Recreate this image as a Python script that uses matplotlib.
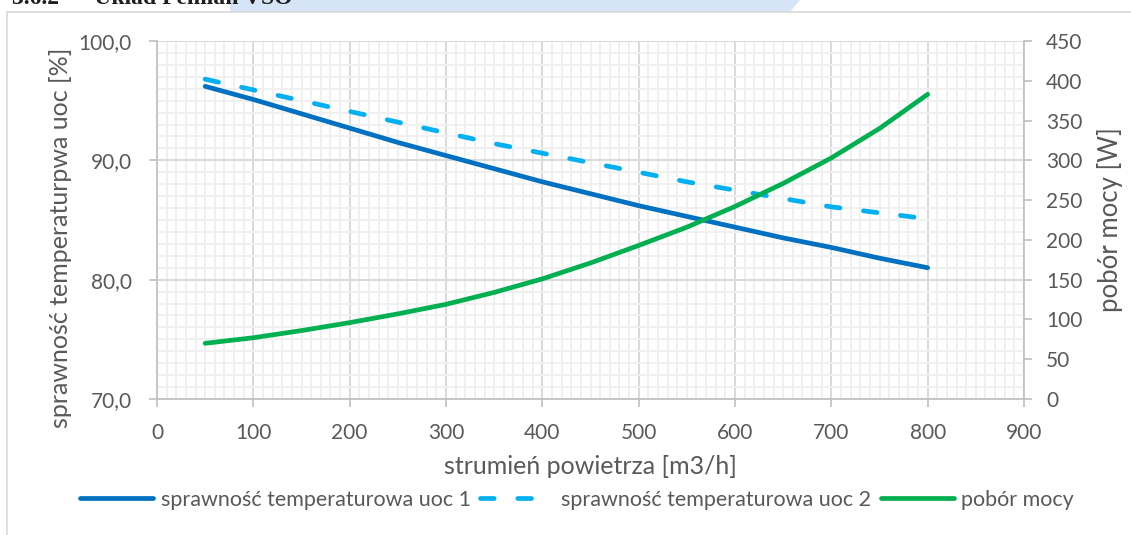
import numpy as np
import matplotlib
matplotlib.use("Agg")
import matplotlib.pyplot as plt
from matplotlib.ticker import MultipleLocator, FuncFormatter
from matplotlib.patches import Rectangle, Polygon

plt.rcParams['font.family'] = ['Lato', 'DejaVu Sans']

# values
airflow = [50, 100, 150, 200, 250, 300, 350, 400, 450, 500, 550, 600, 650, 700, 750, 800]
uoc1 = [96.2, 95.1, 93.9, 92.7, 91.5, 90.4, 89.3, 88.2, 87.2, 86.2, 85.3, 84.4, 83.5, 82.7, 81.8, 81.0]
uoc2 = [96.8, 95.9, 95.0, 94.1, 93.2, 92.3, 91.4, 90.6, 89.8, 89.0, 88.2, 87.5, 86.8, 86.1, 85.6, 85.1]
power = [70, 77, 86, 96, 107, 119, 134, 151, 171, 193, 216, 242, 271, 303, 340, 383]

label_uoc1 = 'sprawność temperaturowa uoc 1'
label_uoc2 = 'sprawność temperaturowa uoc 2'
label_power = 'pobór mocy'

txt = '#595959'
major_grid = '#D9D9D9'
minor_grid = '#F0F0F0'
axis_col = '#BFBFBF'

W, H = 1131, 535
fig = plt.figure(figsize=(W / 100, H / 100), dpi=100)

# document bits above the chart (header band, clipped heading)
band = Polygon([(230 / W, 1), (800 / W, 1), (790 / W, 1 - 12 / H), (230 / W, 1 - 12 / H)],
               closed=True, transform=fig.transFigure, facecolor='#D5E5F7',
               edgecolor='none', zorder=-2)
fig.patches.append(band)
fig.text(12 / W, 1 + 2 / H, '3.6.2      Układ Pemlan VSO', family='Liberation Serif',
         fontweight='bold', fontsize=17, color='#1F1F1F', va='center', ha='left')

# chart area border
fig.patches.append(Rectangle((7 / W, -0.02), 1.1, 1 - 12 / H + 0.02, transform=fig.transFigure,
                             facecolor='white', edgecolor='#D9D9D9', linewidth=1.2, zorder=-1))

ax = fig.add_axes([157 / W, 1 - 399 / H, (1024 - 157) / W, (399 - 41) / H])
ax.patch.set_alpha(0)
ax2 = ax.twinx()

ax.set_xlim(0, 900)
ax.set_ylim(70, 100)
ax2.set_ylim(0, 450)

ax.xaxis.set_major_locator(MultipleLocator(100))
ax.xaxis.set_minor_locator(MultipleLocator(10))
ax.yaxis.set_major_locator(MultipleLocator(10))
ax.yaxis.set_minor_locator(MultipleLocator(1))
ax2.yaxis.set_major_locator(MultipleLocator(50))
ax.yaxis.set_major_formatter(FuncFormatter(lambda v, p: f'{v:.1f}'.replace('.', ',')))

ax.grid(which='minor', color=minor_grid, linewidth=1.4)
ax.grid(which='major', color=major_grid, linewidth=1.4)
ax.set_axisbelow(True)

ax.plot(airflow, uoc1, color='#0070C0', linewidth=3.4, solid_capstyle='round', label=label_uoc1, zorder=3)
ax.plot(airflow, uoc2, color='#00B0F0', linewidth=3.4, linestyle=(0, (2.9, 5.0)),
        dash_capstyle='round', label=label_uoc2, zorder=3)
ax2.plot(airflow, power, color='#00B050', linewidth=3.4, solid_capstyle='round', label=label_power, zorder=3)

for a in (ax, ax2):
    for s in a.spines.values():
        s.set_visible(False)
    a.tick_params(which='minor', length=0)
    a.tick_params(which='major', colors=axis_col, labelcolor=txt, labelsize=15, length=6, width=1.2)
ax.spines['left'].set_visible(True)
ax.spines['bottom'].set_visible(True)
ax.spines['left'].set_color(axis_col)
ax.spines['bottom'].set_color(axis_col)
ax.spines['left'].set_linewidth(1.2)
ax.spines['bottom'].set_linewidth(1.2)
ax2.spines['right'].set_visible(True)
ax2.spines['right'].set_color(axis_col)
ax2.spines['right'].set_linewidth(1.2)
ax.tick_params(axis='x', pad=11)
ax.tick_params(axis='y', pad=12)
ax2.tick_params(axis='y', pad=10)

ax.set_xlabel('strumień powietrza [m3/h]', fontsize=18, color=txt, va='center')
ax.xaxis.set_label_coords(0.5, -(466 - 399) / 358)
ax.set_ylabel('sprawność temperaturpwa uoc [%]', fontsize=18, color=txt, va='center')
ax.yaxis.set_label_coords(-(157 - 61) / 867, (399 - 238) / 358)
ax2.set_ylabel('pobór mocy [W]', fontsize=18.5, color=txt, va='center', rotation=90)
ax2.yaxis.set_label_coords((1110 - 157) / 867, (399 - 220) / 358)

h1, l1 = ax.get_legend_handles_labels()
h2, l2 = ax2.get_legend_handles_labels()
fig.legend(h1 + h2, l1 + l2, loc='center', bbox_to_anchor=(577 / W, 1 - 500 / H), ncol=3,
           frameon=False, fontsize=15.5, labelcolor=txt, handlelength=3.4,
           handletextpad=0.35, columnspacing=0.45, borderaxespad=0)

fig.savefig('out.png', dpi=100)
